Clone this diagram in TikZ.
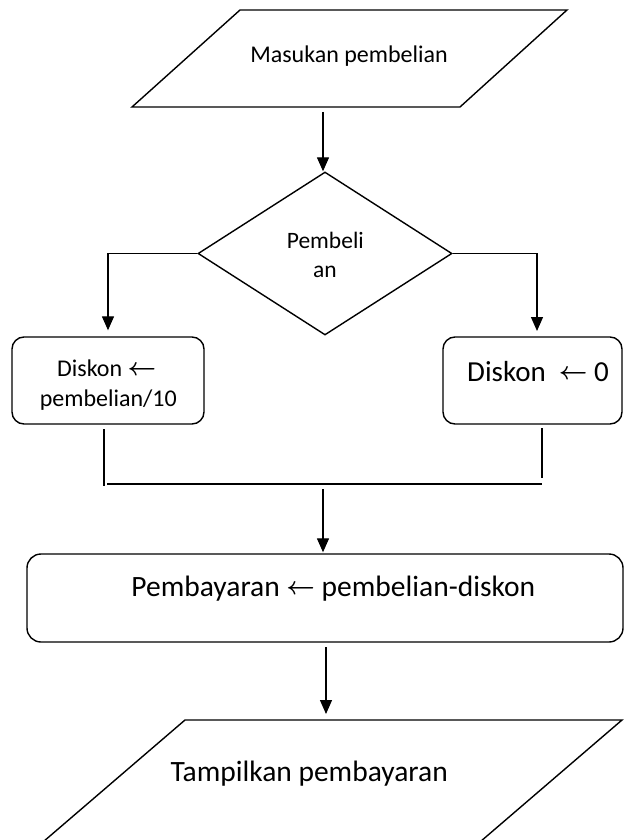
\documentclass[tikz,border=0pt]{standalone}
\usepackage{fontspec}
\setmainfont{Carlito}
\newcommand{\assignarrow}{\raisebox{0.06em}{\boldmath$\leftarrow$}}
\usetikzlibrary{arrows.meta,shapes.geometric}
\begin{document}
\begin{tikzpicture}[x=1pt,y=-1pt,
  outline/.style={draw, line width=1.4pt, line join=miter},
  procbox/.style={draw, line width=1.4pt, rounded corners=12pt, inner sep=0pt},
  decision/.style={draw, diamond, line width=1.4pt, inner sep=0pt},
  flow/.style={line width=1.3pt, -{Triangle[length=14pt,width=12pt]}},
  joinline/.style={line width=1.1pt},
  txt/.style={inner sep=0pt, anchor=base}
]
\useasboundingbox (0,0) rectangle (624,840);
\clip (0,0) rectangle (624,840);

% input parallelogram
\draw[outline] (240,10) -- (567,10) -- (460,107) -- (132,107) -- cycle;
\node[txt, font=\fontsize{24}{28}\selectfont] (inText) at (349,62.7) {Masukan pembelian};
\coordinate (inOut) at (323,112);

% decision
\node[decision, minimum width=254pt, minimum height=163pt] (dec) at (325,253.5) {};
\node[txt, font=\fontsize{23.5}{28}\selectfont] (decA) at (325.3,248) {Pembeli};
\node[txt, font=\fontsize{23.5}{28}\selectfont] (decB) at (325,277) {an};

% two assignments
\node[procbox, minimum width=192pt, minimum height=87pt] (lbox) at (108,380.5) {};
\node[txt, font=\fontsize{24}{28}\selectfont] (lA) at (106.7,376.7) {Diskon \assignarrow};
\node[txt, font=\fontsize{24}{28}\selectfont] (lB) at (108.3,406.7) {pembelian/10};

\node[procbox, minimum width=179pt, minimum height=87pt] (rbox) at (532.5,380.5) {};
\node[txt, font=\fontsize{29}{34}\selectfont] (rA) at (538,381) {Diskon\ \ \assignarrow\ 0};
\coordinate (rDrop) at (537,337);

% payment
\node[procbox, rounded corners=14pt, minimum width=596pt, minimum height=88pt] (pay) at (325,598) {};
\node[txt, font=\fontsize{29.5}{34}\selectfont] (payText) at (333.3,596.7) {Pembayaran \assignarrow\ pembelian-diskon};

% output parallelogram (runs past the lower edge)
\draw[outline] (185,720) -- (622,720) -- (459,860) -- (22,860) -- cycle;
\node[txt, font=\fontsize{29.5}{34}\selectfont] (outText) at (309.2,781) {Tampilkan pembayaran};
\coordinate (outTop) at (326,720);

% connectors
\draw[flow] (inOut) -- (inOut |- dec.north);
\draw[flow, shorten >=6pt] (dec.west) -| (lbox.north);
\draw[flow, shorten >=6pt] (dec.east) -| (rDrop);

\coordinate (lTail) at (104,429);
\coordinate (lCorner) at (104,486);
\coordinate (rTail) at (542,428);
\coordinate (rCorner) at (542,478);
\coordinate (mergeL) at (107,484);
\coordinate (mergeR) at (542,484);
\draw[joinline] (lTail) -- (lCorner);
\draw[joinline] (rTail) -- (rCorner);
\draw[joinline] (mergeL) -- (mergeR);

\coordinate (mergeOut) at (323,489);
\draw[flow, shorten >=1pt] (mergeOut) -- (mergeOut |- pay.north);

\coordinate (payOut) at (326,647);
\draw[flow, shorten >=6pt] (payOut) -- (outTop);
\end{tikzpicture}
\end{document}
